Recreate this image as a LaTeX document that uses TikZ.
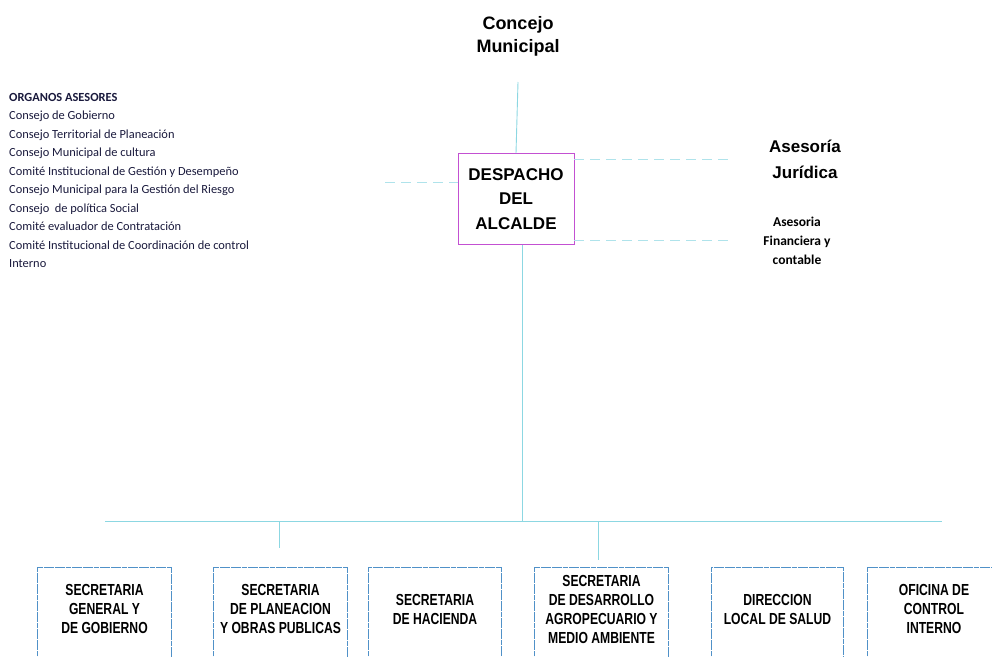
\documentclass[tikz,border=0pt]{standalone}
\usepackage{fontspec}
\setmainfont{Liberation Sans}
\newfontfamily\calibfont{Carlito}
\newfontfamily\narrowfont[FakeStretch=0.76]{Liberation Sans}
\usepackage{xcolor}
\definecolor{linkcyan}{RGB}{140,215,226}
\definecolor{frameblue}{RGB}{80,145,200}
\definecolor{alcmag}{RGB}{195,80,210}
\definecolor{listnavy}{RGB}{25,25,60}

\tikzset{
  link/.style={draw=linkcyan, line width=0.9pt},
  faint/.style={draw=linkcyan!70, line width=0.8pt, dash pattern=on 10pt off 6pt},
  unit/.style={minimum width=133pt, minimum height=84pt, anchor=north, inner sep=0pt,
    align=center, font=\narrowfont\bfseries\fontsize{16}{19}\selectfont},
  frame/.style={draw=frameblue, line width=0.8pt, dash pattern=on 5pt off 0.6pt}
}

\begin{document}
\begin{tikzpicture}[x=1pt, y=-1pt]
        \useasboundingbox (0,0) rectangle (992,656);
        % Top
        \node (concejo) [align=center, font=\bfseries\fontsize{18}{23}\selectfont] at (518,36) {Concejo\\Municipal};
        \coordinate (cm) at (518,82);
        \node (despacho) [draw=alcmag, line width=0.9pt, minimum width=116pt, minimum height=91pt, align=center,
            font=\bfseries\fontsize{17}{24.5}\selectfont] at (516,199) {DESPACHO\\DEL\\ALCALDE};
        \draw[link] (cm) -- (despacho.north);
        % Advisors
        \node (juridica) [align=center, font=\bfseries\fontsize{17}{26}\selectfont] at (805,159) {Asesoría\\Jurídica};
        \node (financiera) [align=center, font=\calibfont\bfseries\fontsize{13.5}{19}\selectfont] at (797,241) {Asesoria\\Financiera y\\contable};
        \coordinate (jr) at (730,159);
        \coordinate (fr) at (728,240);
        \coordinate (ol) at (385,182);
        \draw[faint] (jr -| despacho.east) -- (jr);
        \draw[faint] (fr -| despacho.east) -- (fr);
        \draw[faint] (ol) -- (ol -| despacho.west);
        % Organos asesores
        \node (organos) [anchor=north west, align=left, inner sep=0pt, text=listnavy,
            font=\calibfont\fontsize{12.4}{18.5}\selectfont] at (9,93) {%
            \textbf{ORGANOS ASESORES}\\
            Consejo de Gobierno\\
            Consejo Territorial de Planeación\\
            Consejo Municipal de cultura\\
            Comité Institucional de Gestión y Desempeño\\
            Consejo Municipal para la Gestión del Riesgo\\
            Consejo \ de política Social\\
            Comité evaluador de Contratación\\
            Comité Institucional de Coordinación de control\\
            Interno};
        % Bus
        \coordinate (busL) at (105,521);
        \coordinate (busR) at (942,521);
        \draw[link] (busL) -- (busR);
        \draw[link] ([xshift=6pt]despacho.south) -- ([xshift=6pt]despacho.south |- busL);
        \coordinate (stubA) at (279,548);
        \coordinate (stubB) at (598,560);
        \draw[link] (stubA |- busL) -- (stubA);
        \draw[link] (stubB |- busL) -- (stubB);
        % Dependencias
        \node (sgg) [unit] at (104.5,567) {SECRETARIA\\GENERAL Y\\DE GOBIERNO};
        \node (spo) [unit] at (280.5,567) {SECRETARIA\\DE PLANEACION\\Y OBRAS PUBLICAS};
        \node (sh) [unit, minimum width=132pt] at (435,567) {SECRETARIA\\DE HACIENDA};
        \node (sda) [unit] at (601.5,567) {SECRETARIA\\DE DESARROLLO\\AGROPECUARIO Y\\MEDIO AMBIENTE};
        \node (dls) [unit, minimum width=131pt] at (777.5,567) {DIRECCION\\LOCAL DE SALUD};
        \node (oci) [unit] at (934,567) {OFICINA DE\\CONTROL\\INTERNO};
        \foreach \n in {sgg,spo,sh,sda,dls,oci}
            \draw[frame] (\n.north west) rectangle ([yshift=-20pt]\n.south east);
\end{tikzpicture}
\end{document}
